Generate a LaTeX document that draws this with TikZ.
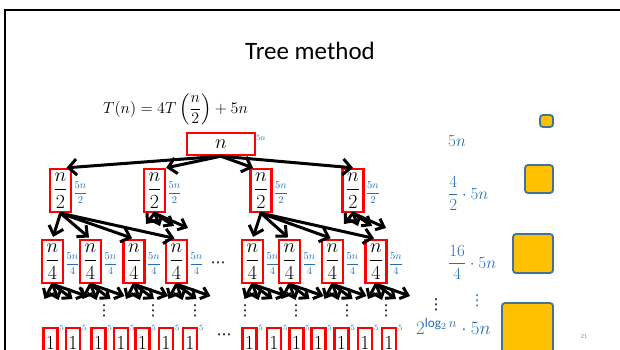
\RequirePackage{fix-cm}
\documentclass[tikz,border=0pt]{standalone}
\usepackage{fontspec}
\setmainfont{Carlito}
\newfontfamily\dvsans{DejaVu Sans}
\usepackage{amsmath}
\usetikzlibrary{arrows.meta}
\definecolor{lblue}{HTML}{2270B8}
\definecolor{gold}{HTML}{FFC000}
\definecolor{slate}{HTML}{41719C}
\begin{document}
\begin{tikzpicture}[x=1pt,y=-1pt,
  redbox/.style={draw=red,line width=2.4pt,fill=white,inner sep=0pt},
  fracbox/.style={redbox,minimum width=21pt,minimum height=43pt,font=\fontsize{20}{24}\selectfont},
  onebox/.style={redbox,minimum width=14pt,minimum height=30pt,anchor=north,font=\fontsize{20}{24}\selectfont},
  cost/.style={text=lblue,inner sep=0pt,anchor=west,font=\fontsize{10.5}{12}\selectfont},
  tinycost/.style={text=lblue,inner sep=0pt,font=\fontsize{8}{9}\selectfont},
  bigarrow/.style={line width=3pt,line cap=round,-{Straight Barb[length=8pt,width=16pt]}},
  midarrow/.style={line width=3pt,line cap=round,shorten >=2pt,-{Straight Barb[length=8pt,width=15pt]}},
  smallarrow/.style={line width=3pt,line cap=round,-{Straight Barb[length=7pt,width=12pt]}},
  square/.style={draw=slate,fill=gold,line width=1.8pt,rounded corners=3pt},
  dotsn/.style={inner sep=0pt,font=\dvsans\fontsize{15}{17}\selectfont},
  rcol/.style={text=lblue,inner sep=0pt,anchor=base west,font=\fontsize{17}{20}\selectfont},
]
\useasboundingbox (0,0) rectangle (620,349);
% slide frame
\draw[line width=2pt] (5,352) -- (5,10) -- (625,10);
% title and equation
\node (title) at (310,51) {\fontsize{25}{30}\selectfont Tree method};
\node[anchor=base west,inner sep=0pt] (eq) at (103,113) {\fontsize{16}{19}\selectfont $T(n)=4T\left(\dfrac{n}{2}\right)+5n$};
% root
\node[redbox,minimum width=68pt,minimum height=22pt,font=\fontsize{20}{24}\selectfont] (root) at (221,144) {$n$};
\node[tinycost,anchor=west] (rootc) at (256,138) {$5n$};
% level 1
\foreach \nm/\x in {a/60.5,b/154.5,c/261,d/353}{
  \node[fracbox] (l1\nm) at (\x,190.5) {$\dfrac{n}{2}$};
  \node[cost] (c1\nm) at ([xshift=1pt,yshift=-2pt]l1\nm.east) {$\dfrac{5n}{2}$};
}
% level 2
\foreach \nm/\x in {a/52.5,b/90.5,c/134,d/176.5,e/252.5,f/289.5,g/332.5,h/376}{
  \node[fracbox] (l2\nm) at (\x,261.5) {$\dfrac{n}{4}$};
  \node[cost] (c2\nm) at ([xshift=1pt,yshift=-2pt]l2\nm.east) {$\dfrac{5n}{4}$};
}
\node[dotsn] (hd2) at (218,265) {⋯};
% level 3
\foreach \nm/\x in {a/50.5,b/73,c/98.5,d/121,e/142.5,f/166,g/190,h/249.5,i/274,j/296.5,k/318.5,l/341.5,m/365,n/389}{
  \node[onebox] (l3\nm) at (\x,327) {$1$};
  \node[tinycost] (c3\nm) at ([xshift=3pt,yshift=-1pt]l3\nm.north east) {$5$};
}
\node[dotsn] (hd3) at (224,337) {⋯};
% vertical dots
\foreach \x [count=\i] in {104,153,195,245,296,347,386}{
  \node[dotsn] (vd\i) at (\x,311) {⋮};
}
\node[dotsn] (vd8) at (436,305) {⋮};
\node[dotsn,text=lblue] (vd9) at (477,301) {⋮};
% arrows root -> level 1
\draw[bigarrow] (root.south) -- ([xshift=6pt]l1a.north);
\draw[bigarrow] (root.south) -- (l1b.north east);
\draw[bigarrow] (root.south) -- ([xshift=-8pt]l1c.north);
\draw[bigarrow] (root.south) -- (l1d.north);
% arrows level 1 -> level 2
\foreach \t in {a,b,c,d}{ \draw[midarrow] (l1a.south) -- (l2\t.north); }
\foreach \t in {e,f,g,h}{ \draw[midarrow] (l1c.south) -- (l2\t.north); }
\coordinate (b1) at (146,224); \coordinate (b2) at (160,226);
\coordinate (b3) at (174,226); \coordinate (b4) at (188,228);
\coordinate (d1) at (344,224); \coordinate (d2) at (358,226);
\coordinate (d3) at (372,226); \coordinate (d4) at (386,228);
\foreach \t in {1,2,3,4}{
  \draw[smallarrow] (l1b.south) -- (b\t);
  \draw[smallarrow] (l1d.south) -- (d\t);
}
% arrows level 2 -> below
\foreach \nm/\x in {a/52.5,b/90.5,c/134,d/176.5,e/252.5,f/289.5,g/332.5,h/376}{
  \coordinate (e\nm1) at (\x-8,299);
  \coordinate (e\nm2) at (\x+6,300);
  \coordinate (e\nm3) at (\x+20,299);
  \coordinate (e\nm4) at (\x+34,296);
  \foreach \k in {1,2,3,4}{ \draw[smallarrow] (l2\nm.south) -- (e\nm\k); }
}
% right column
\node[rcol] (r1) at (448,146) {$5n$};
\node[rcol] (r2) at (448,199) {$\dfrac{4}{2}\cdot 5n$};
\node[rcol] (r3) at (448,268) {$\dfrac{16}{4}\cdot 5n$};
\node[rcol,font=\fontsize{19}{22}\selectfont] (r4) at (416,334) {$2^{\log_2 n}\cdot 5n$};
% squares
\draw[square] (540,115) rectangle (553,127);
\draw[square] (525,165) rectangle (553,193);
\draw[square] (513,234) rectangle (553,273);
\draw[square] (502,303) rectangle (553,358);
\node[text=gray,inner sep=0pt,font=\fontsize{6}{7}\selectfont] (pg) at (584,337) {21};
\end{tikzpicture}
\end{document}
